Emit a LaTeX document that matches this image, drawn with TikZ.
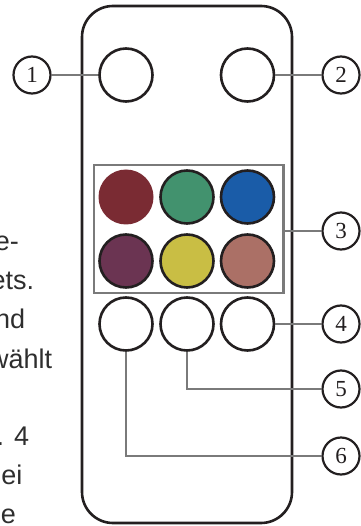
\documentclass[tikz,border=0pt]{standalone}
\usepackage{fontspec}
\newfontfamily\fragsans{Liberation Sans}
\newfontfamily\numserif{Liberation Serif}
\definecolor{ink}{RGB}{35,31,32}
\definecolor{leadgray}{RGB}{122,122,122}
\definecolor{keyred}{RGB}{122,43,51}
\definecolor{keygreen}{RGB}{66,146,110}
\definecolor{keyblue}{RGB}{26,92,168}
\definecolor{keyplum}{RGB}{107,52,82}
\definecolor{keyyellow}{RGB}{201,190,68}
\definecolor{keyrose}{RGB}{171,112,102}

\begin{document}
\begin{tikzpicture}[
  x=1pt, y=-1pt,
  body/.style={draw=ink, fill=white, line width=2.6pt, rounded corners=31pt},
  btn/.style={circle, draw=ink, fill=white, line width=2.6pt,
              minimum size=53pt, inner sep=0pt},
  colbtn/.style={btn, fill=#1},
  callout/.style={circle, draw=ink, fill=white, line width=2.2pt,
                  minimum size=37pt, inner sep=0pt, text=ink,
                  font=\numserif\fontsize{23}{23}\selectfont},
  lead/.style={draw=leadgray, line width=2.3pt},
  keyframe/.style={draw=leadgray, line width=2.3pt, inner sep=0pt,
                   minimum width=189.5pt, minimum height=128pt},
  frag/.style={anchor=base east, inner sep=0pt, text=black!82,
               font=\fragsans\fontsize{27}{27}\selectfont},
]
\useasboundingbox (0,0) rectangle (360,526);

% --- Cut-off text of the page on the left ---
\node[frag] (f1) at (19,250)   {e-};
\node[frag] (f2) at (34.3,289) {ets.};
\node[frag] (f3) at (25.3,328) {nd};
\node[frag] (f4) at (52.3,368) {wählt};
\node[frag] (f5) at (29.3,445) {. 4};
\node[frag] (f6) at (22.7,484) {ei};
\node[frag] (f7) at (16,523)   {e};

% --- Remote body ---
\draw[body] (82,6) rectangle (292,523);

% --- Top keys ---
\node[btn] (btnTL) at (126,75) {};
\node[btn] (btnTR) at (247.5,75) {};

% --- Colour keys in their frame ---
\node[keyframe] (keys) at (188.75,229) {};
\node[colbtn=keyred, draw=none, minimum size=55pt] (colA) at (126,197) {};
\node[colbtn=keygreen]  (colB) at (187,197) {};
\node[colbtn=keyblue]   (colC) at (247.5,197) {};
\node[colbtn=keyplum]   (colD) at (126,261) {};
\node[colbtn=keyyellow] (colE) at (187,261) {};
\node[colbtn=keyrose]   (colF) at (247.5,261) {};

% --- Bottom keys ---
\node[btn] (btnL) at (126,324) {};
\node[btn] (btnM) at (187,324) {};
\node[btn] (btnR) at (247.5,324) {};

% --- Numbered callouts ---
\node[callout] (num1) at (32,75)   {1};
\node[callout] (num2) at (341,75)  {2};
\node[callout] (num3) at (341,231) {3};
\node[callout] (num4) at (341,324) {4};
\node[callout] (num5) at (341,389) {5};
\node[callout] (num6) at (341,456) {6};

% --- Leader lines ---
\draw[lead] (num1) -- (btnTL);
\draw[lead] (btnTR) -- (num2);
\draw[lead] (keys.east |- num3) -- (num3);
\draw[lead] (btnR) -- (num4);
\draw[lead] (btnM.south) |- (num5);
\draw[lead] (btnL.south) |- (num6);

\end{tikzpicture}
\end{document}
